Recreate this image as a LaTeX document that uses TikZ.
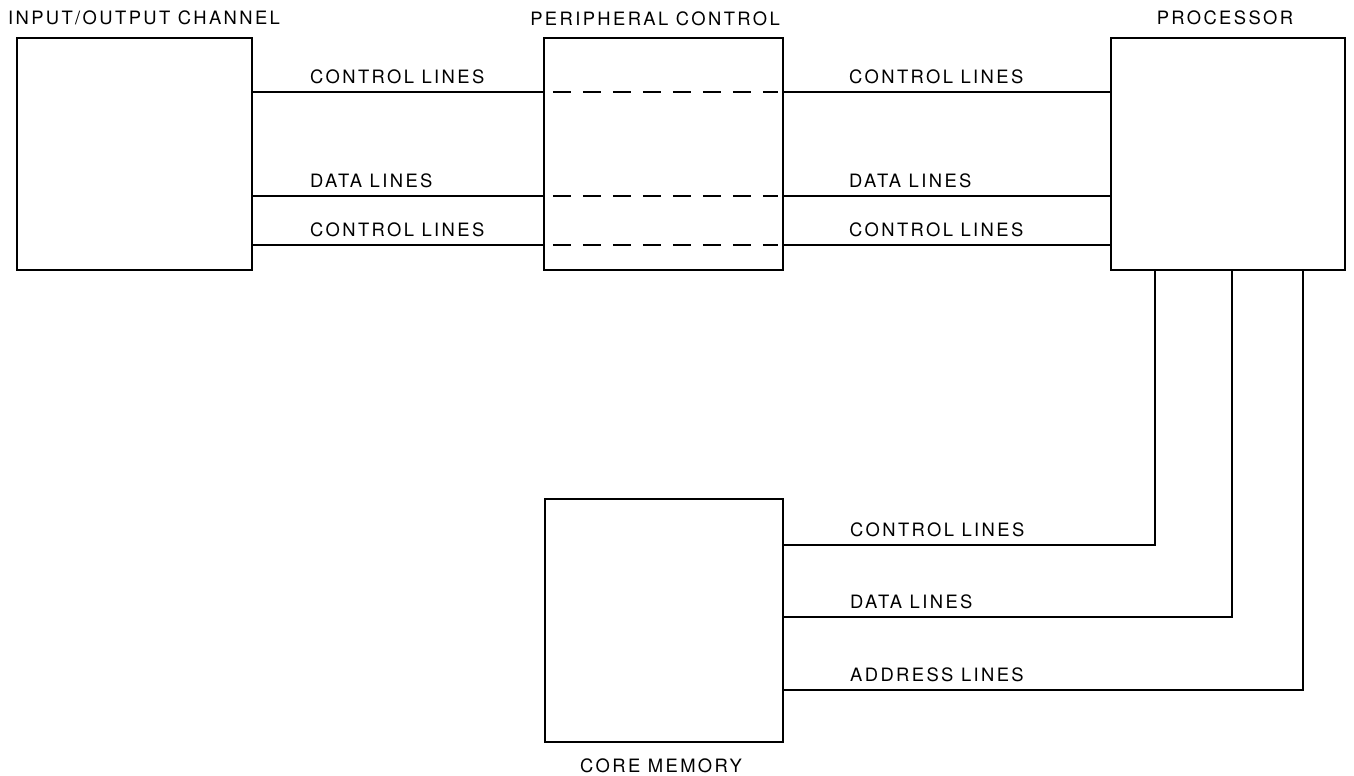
\documentclass[tikz,border=0pt]{standalone}
\usepackage{fontspec}
\newfontfamily\lblfont[LetterSpace=13]{TeX Gyre Heros}
\begin{document}
\begin{tikzpicture}[x=1pt,y=-1pt,
  blk/.style={draw, line width=2.3pt, inner sep=0pt, minimum width=#1},
  blk/.default=236pt,
  wire/.style={line width=2pt},
  inner/.style={line width=2pt, dash pattern=on 18pt off 12pt},
  lbl/.style={inner sep=0pt, font=\lblfont\fontsize{18.4}{22}\selectfont}]
\useasboundingbox (0,0) rectangle (1354,776);

% blocks
\node[blk=235pt, minimum height=232pt] (io) at (134.5,154) {};
\node[blk=239pt, minimum height=232pt] (pc) at (663.5,154) {};
\node[blk=234pt, minimum height=232pt] (pr) at (1228,154) {};
\node[blk=238pt, minimum height=243pt] (cm) at (664,620.5) {};

% block titles
\node[lbl, anchor=base] (tio) at (144,25) {INPUT/OUTPUT CHANNEL};
\node[lbl, anchor=base] (tpc) at (655,26) {PERIPHERAL CONTROL};
\node[lbl, anchor=base] (tpr) at (1225,25) {PROCESSOR};
\node[lbl, anchor=base] (tcm) at (661,772) {CORE MEMORY};

% bus levels
\coordinate (r1) at (0,92);
\coordinate (r2) at (0,196);
\coordinate (r3) at (0,245);
\coordinate (k1) at (1155,545);
\coordinate (k2) at (1232,617);
\coordinate (k3) at (1303,690);

% I/O channel to peripheral control
\draw[wire] (io.east |- r1) -- (pc.west |- r1);
\draw[wire] (io.east |- r2) -- (pc.west |- r2);
\draw[wire] (io.east |- r3) -- (pc.west |- r3);
% peripheral control to processor
\draw[wire] (pc.east |- r1) -- (pr.west |- r1);
\draw[wire] (pc.east |- r2) -- (pr.west |- r2);
\draw[wire] (pc.east |- r3) -- (pr.west |- r3);
% pass-through inside peripheral control
\draw[inner] ([xshift=10pt]pc.west |- r1) -- ([xshift=-6pt]pc.east |- r1);
\draw[inner] ([xshift=10pt]pc.west |- r2) -- ([xshift=-6pt]pc.east |- r2);
\draw[inner] ([xshift=10pt]pc.west |- r3) -- ([xshift=-6pt]pc.east |- r3);
% processor to core memory
\draw[wire] (pr.south -| k1) |- (cm.east |- k1);
\draw[wire] (pr.south -| k2) |- (cm.east |- k2);
\draw[wire] (pr.south -| k3) |- (cm.east |- k3);

% bus labels
\node[lbl, anchor=base west] (l1) at (310,83) {CONTROL LINES};
\node[lbl, anchor=base west] (l2) at (310,187) {DATA LINES};
\node[lbl, anchor=base west] (l3) at (310,236) {CONTROL LINES};
\node[lbl, anchor=base west] (l4) at (849,83) {CONTROL LINES};
\node[lbl, anchor=base west] (l5) at (849,187) {DATA LINES};
\node[lbl, anchor=base west] (l6) at (849,236) {CONTROL LINES};
\node[lbl, anchor=base west] (l7) at (850,536) {CONTROL LINES};
\node[lbl, anchor=base west] (l8) at (850,608) {DATA LINES};
\node[lbl, anchor=base west] (l9) at (850,681) {ADDRESS LINES};
\end{tikzpicture}
\end{document}
